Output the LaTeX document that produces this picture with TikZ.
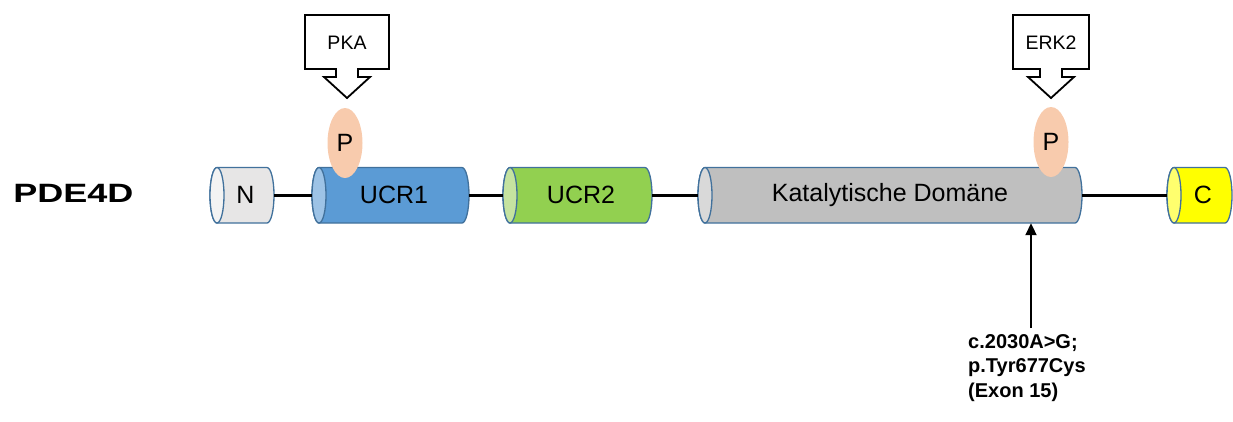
\documentclass[tikz,border=0pt]{standalone}
\usepackage{fontspec}
\setmainfont{Liberation Sans}
\usetikzlibrary{shapes.geometric,arrows.meta}
\definecolor{outl}{RGB}{65,113,156}
\definecolor{nbody}{RGB}{231,230,230}
\definecolor{ncap}{RGB}{243,243,243}
\definecolor{ubody}{RGB}{91,155,213}
\definecolor{ucap}{RGB}{157,195,230}
\definecolor{gbody}{RGB}{146,208,80}
\definecolor{gcap}{RGB}{197,227,160}
\definecolor{kbody}{RGB}{191,191,191}
\definecolor{kcap}{RGB}{217,217,217}
\definecolor{cbody}{RGB}{255,255,0}
\definecolor{ccap}{RGB}{255,255,110}
\definecolor{peach}{RGB}{248,203,173}
% #1 left cap centre x, #2 right cap centre x, #3 body colour, #4 cap colour
\newcommand{\mycyl}[4]{%
  \filldraw[fill=#3,draw=outl,line width=1.3pt]
    (#1,-167.5) -- (#2,-167.5)
    arc[start angle=90,end angle=-90,x radius=7,y radius=27.75]
    -- (#1,-223) arc[start angle=270,end angle=90,x radius=7,y radius=27.75] -- cycle;
  \filldraw[fill=#4,draw=outl,line width=1.3pt] (#1,-195.25) ellipse[x radius=7,y radius=27.75];
}
\tikzset{
  lbl/.style={font=\fontsize{25}{30}\selectfont,inner sep=0pt,minimum height=55.5pt},
  link/.style={line width=2.6pt,black},
  pblob/.style={ellipse,fill=peach,inner sep=0pt,minimum width=35pt,minimum height=70pt,font=\fontsize{25}{30}\selectfont},
  callout/.style={draw=black,line width=1.8pt,fill=white},
  ctext/.style={font=\fontsize{19.5}{24}\selectfont,inner sep=0pt},
}
\begin{document}
\begin{tikzpicture}[x=1pt,y=1pt]
\useasboundingbox (0,0) rectangle (1233,-421);
% cylinders
\mycyl{217}{267}{nbody}{ncap}
\mycyl{319}{462}{ubody}{ucap}
\mycyl{510}{645}{gbody}{gcap}
\mycyl{705}{1075}{kbody}{kcap}
\mycyl{1174}{1225}{cbody}{ccap}
% label nodes spanning each cylinder
\node[lbl,minimum width=64pt] (N) at (242,-195.25) {\hspace*{7pt}N};
\node[lbl,minimum width=157pt] (U1) at (390.5,-195.25) {\hspace*{7pt}UCR1};
\node[lbl,minimum width=149pt] (U2) at (577.5,-195.25) {\hspace*{7pt}UCR2};
\node[lbl,minimum width=384pt] (K) at (890,-195.25) {Katalytische Domäne};
\node[lbl,minimum width=65pt] (C) at (1199.5,-195.25) {\hspace*{7pt}C};
% links
\draw[link] (N.east) -- (U1.west);
\draw[link] (U1.east) -- (U2.west);
\draw[link] (U2.east) -- (K.west);
\draw[link] (K.east) -- (C.west);
% phosphorylation sites
\node[pblob] (P1) at (345,-143) {P};
\node[pblob] (P2) at (1051,-142) {P};
% callouts
\draw[callout] (305,-15) -- (389,-15) -- (389,-69) -- (358,-69) -- (358,-77) -- (370,-77)
  -- (347,-98) -- (324,-77) -- (336,-77) -- (336,-69) -- (305,-69) -- cycle;
\node[ctext] (pka) at (347,-43) {PKA};
\draw[callout] (1013,-15) -- (1089,-15) -- (1089,-69) -- (1062,-69) -- (1062,-77) -- (1074,-77)
  -- (1051,-98) -- (1028,-77) -- (1040,-77) -- (1040,-69) -- (1013,-69) -- cycle;
\node[ctext] (erk) at (1051,-43) {ERK2};
% gene name
\node[anchor=base west,inner sep=0pt,xscale=1.36,font=\bfseries\fontsize{26.5}{30}\selectfont] (pde) at (13,-202) {PDE4D};
% mutation
\node[anchor=north west,inner sep=0pt,align=left,font=\bfseries\fontsize{20}{24.5}\selectfont] (mut) at (968,-334) {c.2030A>G;\\p.Tyr677Cys\\(Exon 15)};
\coordinate (mstart) at (1031,-328);
\draw[line width=2pt,-{Triangle[length=12pt,width=11pt]}] (mstart) -- (mstart |- K.south);
\end{tikzpicture}
\end{document}
